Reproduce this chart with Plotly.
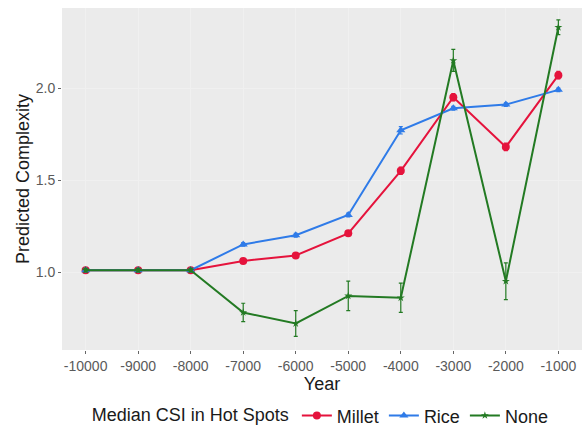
import plotly.graph_objects as go

years = [-10000, -9000, -8000, -7000, -6000, -5000, -4000, -3000, -2000, -1000]
tick_labels = [str(y) for y in years]

millet = [1.01, 1.01, 1.01, 1.06, 1.09, 1.21, 1.55, 1.95, 1.68, 2.07]
millet_err = [0.01, 0.01, 0.01, 0.01, 0.01, 0.01, 0.02, 0.02, 0.02, 0.02]

rice = [1.01, 1.01, 1.01, 1.15, 1.20, 1.31, 1.77, 1.89, 1.91, 1.99]
rice_err = [0.01, 0.01, 0.01, 0.01, 0.01, 0.01, 0.02, 0.01, 0.01, 0.01]

none = [1.01, 1.01, 1.01, 0.78, 0.72, 0.87, 0.86, 2.15, 0.95, 2.33]
none_err = [0.01, 0.01, 0.01, 0.05, 0.07, 0.08, 0.08, 0.06, 0.10, 0.04]

series = [
    ("Millet", millet, millet_err, "#e5133c", "circle", 8),
    ("Rice", rice, rice_err, "#2f7be8", "triangle-up", 8),
    ("None", none, none_err, "#237a23", "star", 6),
]

FONT = "Liberation Sans, Arial, sans-serif"

fig = go.Figure()
for name, vals, err, color, symbol, size in series:
    fig.add_trace(go.Scatter(
        x=years, y=vals, name=name, mode="lines+markers",
        line=dict(color=color, width=2),
        marker=dict(color=color, symbol=symbol, size=size),
        error_y=dict(type="data", array=err, color=color, thickness=1.2, width=2),
    ))

axis_common = dict(
    showgrid=True, gridcolor="#f0f0f0", gridwidth=1,
    zeroline=False, showline=False,
    ticks="outside", ticklen=3, tickcolor="#666666",
    tickfont=dict(family=FONT, size=14, color="#5a5a5a"),
    title_font=dict(family=FONT, size=18, color="#1a1a1a"),
)

fig.update_layout(
    width=585, height=434,
    margin=dict(l=62, r=3, t=8, b=84),
    paper_bgcolor="white",
    plot_bgcolor="#ebebeb",
    xaxis=dict(range=[-10450, -550], tickvals=years, ticktext=tick_labels,
               title=dict(text="Year", standoff=2), **axis_common),
    yaxis=dict(range=[0.576, 2.435], tickvals=[1.0, 1.5, 2.0],
               ticktext=["1.0", "1.5", "2.0"],
               title=dict(text="Predicted Complexity", standoff=1), **axis_common),
    legend=dict(
        orientation="h", xref="container", yref="container",
        x=0.55, xanchor="center", y=0.042, yanchor="middle",
        title=dict(text="Median CSI in Hot Spots", side="left",
                   font=dict(family=FONT, size=18, color="#1a1a1a")),
        font=dict(family=FONT, size=18, color="#1a1a1a"),
        itemwidth=30, tracegroupgap=0,
    ),
    showlegend=True,
)

fig.write_html("out.html")
